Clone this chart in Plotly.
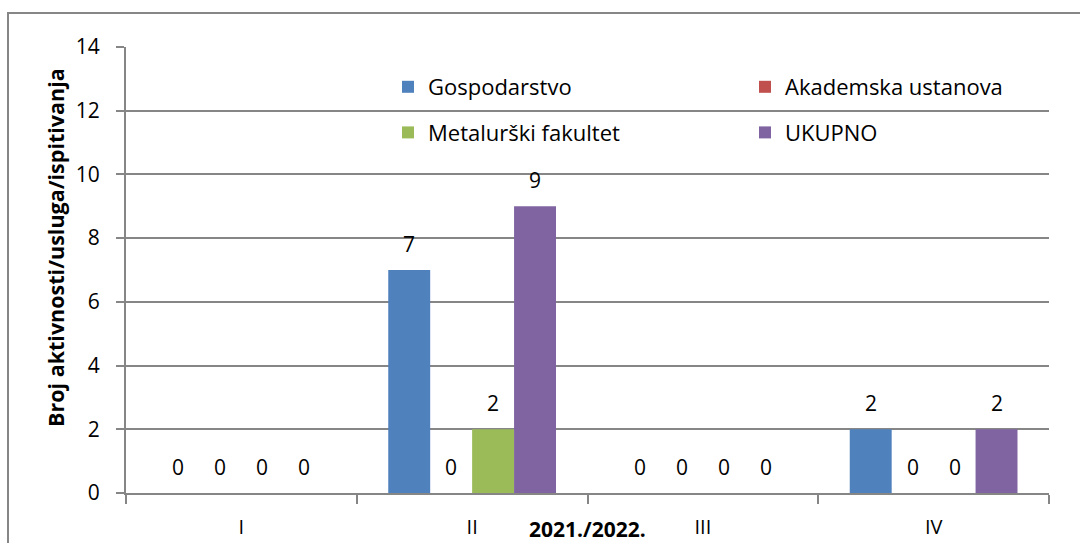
import plotly.graph_objects as go

# Quarterly counts of activities / services / tests, 2021./2022.
quarters = ["I", "II", "III", "IV"]
series_names = ["Gospodarstvo", "Akademska ustanova", "Metalurški fakultet", "UKUPNO"]
gospodarstvo = [0, 7, 0, 2]
akademska = [0, 0, 0, 0]
metalurski = [0, 2, 0, 0]
ukupno = [0, 9, 0, 2]
series_values = [gospodarstvo, akademska, metalurski, ukupno]
colors = ["#4F81BD", "#C0504D", "#9BBB59", "#8064A2"]

FONT = "Open Sans"
GRID = "#868686"
BARGAP = 0.273

# Plot-area geometry (pixels)
W, H = 1080, 543
L, R, T, B = 126, 31, 47, 50
pw, ph = W - L - R, H - T - B

fig = go.Figure()
for k, (name, vals, col) in enumerate(zip(series_names, series_values, colors)):
    fig.add_trace(go.Bar(
        x=quarters, y=vals, name=name, marker=dict(color=col, line=dict(width=0)),
        legend="legend" if k % 2 == 0 else "legend2",
        legendgroup=name,
    ))

# value labels above each bar (grouped-bar offsets on the category scale)
n = len(series_values)
bw = (1 - BARGAP) / n
annotations = []
for k, vals in enumerate(series_values):
    for i, v in enumerate(vals):
        annotations.append(dict(
            x=i + (k - (n - 1) / 2) * bw, y=v, xref="x", yref="y",
            text=str(v), showarrow=False, yshift=26,
            font=dict(family=FONT, size=21, color="#000000"),
        ))

# axis titles
annotations.append(dict(
    x=(587 - L) / pw, y=(H - B - 529) / ph, xref="paper", yref="paper",
    text="<b>2021./2022.</b>", showarrow=False, xanchor="center", yanchor="middle",
    font=dict(family=FONT, size=21, color="#000000"),
))
annotations.append(dict(
    x=(55 - L) / pw, y=(H - B - 248) / ph, xref="paper", yref="paper",
    text="<b>Broj aktivnosti/usluga/ispitivanja</b>", textangle=-90, showarrow=False,
    xanchor="center", yanchor="middle",
    font=dict(family=FONT, size=21.5, color="#000000"),
))

legend_common = dict(
    orientation="v", yanchor="top", xanchor="left",
    bgcolor="rgba(0,0,0,0)", tracegroupgap=14,
    font=dict(family=FONT, size=22, color="#000000"),
)

fig.update_layout(
    width=W, height=H,
    margin=dict(l=L, r=R, t=T, b=B, pad=0),
    paper_bgcolor="#FFFFFF", plot_bgcolor="#FFFFFF",
    barmode="group", bargap=BARGAP, bargroupgap=0,
    font=dict(family=FONT, size=20, color="#000000"),
    showlegend=True,
    legend=dict(x=(388 - L) / pw, y=(H - B - 66) / ph, **legend_common),
    legend2=dict(x=(745 - L) / pw, y=(H - B - 66) / ph, **legend_common),
    annotations=annotations,
    shapes=[dict(
        type="rect", xref="paper", yref="paper",
        x0=(8 - L) / pw, x1=1.2, y0=-0.3, y1=(H - B - 13) / ph,
        line=dict(color=GRID, width=2), fillcolor="rgba(0,0,0,0)", layer="below",
    )],
    xaxis=dict(
        type="category", tickson="boundaries", automargin=False,
        showline=True, linecolor=GRID, linewidth=2,
        ticks="outside", ticklen=9, tickwidth=2, tickcolor=GRID,
        showgrid=False, zeroline=False, ticklabelstandoff=15,
        tickfont=dict(family=FONT, size=20, color="#000000"),
    ),
    yaxis=dict(
        range=[0, 14], dtick=2, tick0=0, automargin=False,
        showline=True, linecolor=GRID, linewidth=2,
        ticks="outside", ticklen=8, tickwidth=2, tickcolor=GRID,
        showgrid=True, gridcolor=GRID, gridwidth=2, zeroline=False,
        ticklabelstandoff=12,
        tickfont=dict(family=FONT, size=21, color="#000000"),
    ),
)

fig.write_html("out.html")
